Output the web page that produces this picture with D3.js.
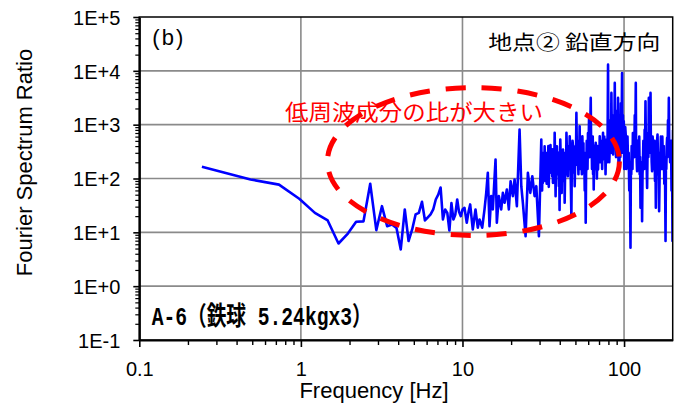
<!DOCTYPE html>
<html>
<head>
<meta charset="utf-8">
<script src="https://cdn.jsdelivr.net/npm/d3@7"></script>
<style>
body { margin: 0; background: #fff; }
</style>
</head>
<body>
<div id="wrapper"></div>
<script>
// frequency [Hz] and spectrum ratio
const lowFreq = [0.244, 0.488, 0.732, 0.977, 1.221, 1.465, 1.709, 1.953, 2.197, 2.441, 2.686, 2.930, 3.174, 3.418,
  3.662, 3.906, 4.150, 4.395, 4.639, 4.883, 5.127, 5.371, 5.615, 5.859, 6.104, 6.348, 6.592, 6.836, 7.080, 7.324,
  7.568, 7.813, 8.057, 8.301, 8.545, 8.789, 9.033, 9.277, 9.521, 9.766]
const lowRatio = [165, 96, 77, 42, 23, 16.6, 6.2, 9.5, 15.7, 16, 80, 11, 30.6, 13,
  14, 12, 4.8, 26.6, 6.9, 11.3, 21.5, 23, 37, 16.6, 19, 21.5, 26.6, 40.7, 50, 68,
  17.3, 26.6, 23, 10.8, 35, 17.3, 21.5, 40.7, 24, 20]

const midFreq = [10.01, 10.29, 10.63, 10.9, 11.16, 11.58, 12.04, 12.44, 12.75, 13.25, 13.69, 14.03, 14.35, 14.70,
  15.06, 15.41, 16.02, 16.32, 16.79, 17.37, 17.78, 18.22, 18.82, 19.36, 19.85, 20.50, 21.01, 21.71, 22.56, 23.12,
  23.65, 24.58, 25.40, 26.29, 27.05, 27.96, 28.64, 29.72]
const midRatio = [26.6, 28.6, 15.1, 24, 33, 11.3, 26.6, 12.2, 17.3, 12.2, 26.6, 54, 127, 13,
  47, 26.6, 225, 15.1, 47, 26.6, 54, 35.4, 62.5, 26.6, 89, 47, 96, 30.6, 811, 72,
  35.4, 8.5, 127, 54, 110, 47, 72, 8.5]

// dense part above 30 Hz: [frequency, ratio]
const highSpectrum = [
  [30.75, 529], [30.9, 150], [31.1, 60], [31.3, 180], [31.47, 83], [31.65, 300], [31.85, 250], [32.05, 120],
  [32.24, 397], [32.4, 200], [32.6, 90], [32.8, 250], [33.03, 147], [33.2, 80], [33.4, 300], [33.6, 130],
  [33.8, 225], [34.0, 400], [34.2, 70], [34.4, 200], [34.63, 127], [34.85, 260], [35.05, 420], [35.25, 150],
  [35.48, 300], [35.7, 180], [35.9, 110], [36.1, 350], [36.3, 83], [36.5, 200], [36.75, 260], [36.95, 120],
  [37.2, 705], [37.45, 200], [37.7, 47], [38.0, 250], [38.4, 397], [38.6, 150], [38.9, 120], [39.2, 300],
  [39.5, 72], [39.7, 180], [39.9, 26], [40.1, 200], [40.3, 529], [40.7, 150], [41.1, 54], [41.3, 250],
  [41.5, 180], [41.7, 90], [41.9, 345], [42.15, 150], [42.4, 100], [42.65, 300], [42.9, 35.4], [43.2, 150],
  [43.5, 260], [43.75, 120], [44.0, 705], [44.45, 200], [44.9, 110], [45.2, 400], [45.5, 330], [45.8, 150],
  [46.1, 609], [46.6, 200], [47.2, 20], [47.45, 120], [47.7, 150], [48.0, 500], [48.3, 397], [48.6, 200],
  [48.9, 130], [49.2, 350], [49.5, 72], [49.8, 200], [50.1, 400], [50.4, 250], [50.7, 1655], [51.0, 400],
  [51.3, 180], [51.6, 450], [51.9, 225], [52.2, 120], [52.5, 500], [52.8, 250], [53.1, 934], [53.4, 300],
  [53.7, 150], [54.05, 400], [54.4, 300], [54.8, 120], [55.2, 609], [55.5, 250], [55.8, 200], [56.05, 450],
  [56.3, 127], [56.7, 300], [57.1, 60], [57.5, 250], [57.9, 15.1], [58.2, 120], [58.5, 200], [58.75, 500],
  [59.0, 300], [59.4, 150], [59.8, 700], [60.25, 300], [60.7, 1243], [61.05, 250], [61.4, 400], [61.8, 900],
  [62.2, 3141], [62.6, 300], [63.0, 500], [63.35, 150], [63.7, 225], [64.0, 600], [64.3, 120], [64.6, 300],
  [64.9, 62.5], [65.35, 400], [65.8, 250], [66.3, 150], [66.8, 459], [67.35, 250], [67.9, 100], [68.45, 400],
  [69.0, 147], [69.4, 300], [69.8, 400], [70.25, 200], [70.7, 609], [71.1, 350], [71.5, 200], [71.95, 500],
  [72.4, 300], [72.8, 500], [73.2, 150], [73.65, 400], [74.1, 705], [74.55, 250], [75.0, 300], [75.45, 600],
  [75.9, 225], [76.35, 450], [76.8, 120], [77.3, 350], [77.8, 529], [78.25, 300], [78.7, 200], [79.15, 800],
  [79.6, 13030], [80.05, 400], [80.5, 600], [81.0, 200], [81.5, 345], [82.0, 700], [82.5, 1200], [83.0, 300],
  [83.5, 3890], [84.0, 600], [84.5, 400], [85.0, 800], [85.5, 279], [86.0, 500], [86.5, 1500], [87.05, 400],
  [87.6, 5965], [88.1, 600], [88.6, 800], [89.15, 250], [89.7, 569], [90.2, 300], [90.7, 1800], [91.25, 500],
  [91.8, 3141], [92.35, 200], [92.9, 400], [93.45, 150], [94.0, 371], [94.8, 250], [95.6, 2500], [96.4, 400],
  [97.2, 9140], [97.8, 300], [98.4, 1500], [99.0, 400], [99.6, 1156], [100.3, 150], [101, 300], [101.7, 900],
  [102.4, 655], [103.25, 150], [104.1, 250], [105.0, 600], [105.9, 182], [106.8, 300], [107.7, 60], [108.65, 150],
  [109.6, 5.2], [110.2, 200], [110.8, 120], [111.45, 400], [112.1, 279], [112.75, 150], [113.4, 700], [114.1, 300],
  [114.8, 569], [115.65, 250], [116.5, 1500], [117.35, 400], [118.2, 5965], [118.75, 300], [119.3, 500], [119.85, 200],
  [120.4, 137], [121.15, 500], [121.9, 400], [122.65, 150], [123.4, 279], [124.15, 600], [124.9, 120], [125.65, 250],
  [126.4, 28.6], [127.1, 150], [127.8, 60], [128.55, 200], [129.3, 16.1], [130.1, 120], [130.9, 200], [131.7, 500],
  [132.5, 279], [133.3, 150], [134.1, 800], [134.9, 300], [135.7, 2717], [136.5, 400], [137.3, 300], [138.1, 150],
  [138.9, 67], [139.75, 300], [140.6, 700], [141.45, 250], [142.3, 3141], [143.15, 400], [144, 800], [144.9, 300],
  [145.8, 3890], [146.6, 400], [147.4, 600], [148.25, 200], [149.1, 137], [150.2, 600], [151.3, 400], [152.4, 150],
  [153.5, 279], [154.45, 500], [155.4, 90], [156.35, 300], [157.3, 28.6], [158.25, 150], [159.2, 250], [160.15, 500],
  [161.1, 655], [162.05, 250], [163, 120], [163.9, 300], [164.8, 24.7], [166.2, 150], [167.6, 200], [169.05, 600],
  [170.5, 371], [171.5, 150], [172.5, 600], [173.5, 300], [174.5, 182], [176, 400], [177.5, 80], [179, 250],
  [180.6, 6.9], [181.6, 200], [182.6, 150], [183.65, 400], [184.7, 569], [185.85, 250], [187, 1200], [188.15, 400],
  [189.3, 3141], [190.45, 300], [191.6, 500], [192.8, 200], [194.0, 371], [195.35, 500], [196.7, 60], [198.1, 300],
  [199.5, 6.9], [201, 800]
]

const xTicks = [0.1, 1, 10, 100]
const xTickLabels = ["0.1", "1", "10", "100"]
const yTicks = [0.1, 1, 10, 100, 1000, 10000, 100000]
const yTickLabels = ["1E-1", "1E+0", "1E+1", "1E+2", "1E+3", "1E+4", "1E+5"]

// the dashed ellipse annotation, in data units (freq range, ratio range)
const ellipseFreq = [1.46, 93.6]
const ellipseRatio = [8.75, 4875]

const dataset = lowFreq.map((f, i) => ({ f: f, r: lowRatio[i] }))
  .concat(midFreq.map((f, i) => ({ f: f, r: midRatio[i] })))
  .concat(highSpectrum.map(d => ({ f: d[0], r: d[1] })))

let dimensions = {
  width: 680,
  height: 407,
  margin: { top: 17, right: 7.3, bottom: 67, left: 139.3 },
}
dimensions.boundedWidth = dimensions.width - dimensions.margin.left - dimensions.margin.right
dimensions.boundedHeight = dimensions.height - dimensions.margin.top - dimensions.margin.bottom

const font = "Arial, 'Liberation Sans', sans-serif"

const wrapper = d3.select("#wrapper").append("svg")
  .attr("width", dimensions.width)
  .attr("height", dimensions.height)
  .style("display", "block")

const bounds = wrapper.append("g")
  .attr("transform", `translate(${dimensions.margin.left},${dimensions.margin.top})`)

const xScale = d3.scaleLog().domain([0.1, 200]).range([0, dimensions.boundedWidth])
const yScale = d3.scaleLog().domain([0.1, 100000]).range([dimensions.boundedHeight, 0])

// minor tick values (2..9 per decade)
const xMinor = []
for (let e = -1; e <= 2; e++) for (let k = 2; k <= 9; k++) {
  const v = k * Math.pow(10, e)
  if (v < 200) xMinor.push(v)
}
const yMinor = []
for (let e = -1; e <= 4; e++) for (let k = 2; k <= 9; k++) yMinor.push(k * Math.pow(10, e))

// grid
const grid = bounds.append("g").attr("stroke", "#8a8a8a").attr("stroke-width", 1.6)
grid.selectAll(".gx").data(xTicks.slice(1)).enter().append("line")
  .attr("x1", d => xScale(d)).attr("x2", d => xScale(d))
  .attr("y1", 0).attr("y2", dimensions.boundedHeight)
grid.selectAll(".gy").data(yTicks.slice(1, -1)).enter().append("line")
  .attr("y1", d => yScale(d)).attr("y2", d => yScale(d))
  .attr("x1", 0).attr("x2", dimensions.boundedWidth)

// clip
wrapper.append("defs").append("clipPath").attr("id", "plotclip")
  .append("rect").attr("width", dimensions.boundedWidth).attr("height", dimensions.boundedHeight)

const lineGen = d3.line().x(d => xScale(d.f)).y(d => yScale(d.r))
bounds.append("path")
  .attr("clip-path", "url(#plotclip)")
  .datum(dataset)
  .attr("d", lineGen)
  .attr("fill", "none")
  .attr("stroke", "#0000ff")
  .attr("stroke-width", 2.6)
  .attr("stroke-linejoin", "round")

// frame (top / right)
bounds.append("rect")
  .attr("width", dimensions.boundedWidth).attr("height", dimensions.boundedHeight)
  .attr("fill", "none").attr("stroke", "#000").attr("stroke-width", 1.5)

// axes
const styleAxis = g => {
  g.select(".domain").attr("stroke", "#000").attr("stroke-width", 2.2)
  g.selectAll(".tick line").attr("stroke", "#000").attr("stroke-width", 1.6)
  g.selectAll("text").attr("font-family", font).attr("font-size", 20).attr("fill", "#000")
}
bounds.append("g").call(d3.axisLeft(yScale).tickValues(yMinor).tickSize(4).tickFormat(""))
  .call(g => g.select(".domain").remove())
  .call(g => g.selectAll(".tick line").attr("stroke", "#000").attr("stroke-width", 1.2))
bounds.append("g")
  .call(d3.axisLeft(yScale).tickValues(yTicks).tickSize(6).tickSizeOuter(0).tickPadding(13)
    .tickFormat((d, i) => yTickLabels[i]))
  .call(styleAxis)
  .call(g => g.selectAll("text").attr("dy", "0.36em"))

bounds.append("g").attr("transform", `translate(0,${dimensions.boundedHeight})`)
  .call(d3.axisBottom(xScale).tickValues(xMinor).tickSize(5).tickFormat(""))
  .call(g => g.select(".domain").remove())
  .call(g => g.selectAll(".tick line").attr("stroke", "#000").attr("stroke-width", 1.4))
bounds.append("g").attr("transform", `translate(0,${dimensions.boundedHeight})`)
  .call(d3.axisBottom(xScale).tickValues(xTicks).tickSize(7).tickSizeOuter(0).tickPadding(15)
    .tickFormat((d, i) => xTickLabels[i]))
  .call(styleAxis)

// dashed ellipse annotation
const ex0 = xScale(ellipseFreq[0]), ex1 = xScale(ellipseFreq[1])
const ey0 = yScale(ellipseRatio[1]), ey1 = yScale(ellipseRatio[0])
bounds.append("ellipse")
  .attr("cx", (ex0 + ex1) / 2).attr("cy", (ey0 + ey1) / 2)
  .attr("rx", (ex1 - ex0) / 2).attr("ry", (ey1 - ey0) / 2)
  .attr("fill", "none")
  .attr("stroke", "#ff0000")
  .attr("stroke-width", 5)
  .attr("stroke-dasharray", "20 16")

// texts inside the plot
bounds.append("text")
  .attr("x", 13).attr("y", 27.5)
  .attr("font-family", font).attr("font-size", 22)
  .attr("textLength", 31).attr("lengthAdjust", "spacing")
  .text("(b)")
bounds.append("text")
  .attr("x", 521).attr("y", 32.5)
  .attr("text-anchor", "end")
  .attr("font-family", "'Noto Sans CJK JP', sans-serif").attr("font-size", 20)
  .attr("textLength", 172).attr("lengthAdjust", "spacingAndGlyphs")
  .text("地点② 鉛直方向")
bounds.append("text")
  .attr("x", 145.7).attr("y", 102.5)
  .attr("fill", "#ff0000")
  .attr("font-family", "'Noto Sans CJK JP', sans-serif").attr("font-size", 22)
  .attr("textLength", 258).attr("lengthAdjust", "spacingAndGlyphs")
  .text("低周波成分の比が大きい")
bounds.append("text")
  .attr("x", 12.4).attr("y", 308)
  .attr("font-family", "'Liberation Mono', 'Noto Sans CJK JP', monospace")
  .attr("font-size", 26).attr("font-weight", "bold")
  .attr("textLength", 220).attr("lengthAdjust", "spacingAndGlyphs")
  .text("A-6（鉄球 5.24kgx3）")

// axis titles
wrapper.append("text")
  .attr("x", 374).attr("y", 397.5)
  .attr("text-anchor", "middle")
  .attr("font-family", font).attr("font-size", 22)
  .text("Frequency [Hz]")
wrapper.append("text")
  .attr("transform", "translate(32,162.5) rotate(-90)")
  .attr("text-anchor", "middle")
  .attr("font-family", font).attr("font-size", 22)
  .text("Fourier Spectrum Ratio")
</script>
</body>
</html>
